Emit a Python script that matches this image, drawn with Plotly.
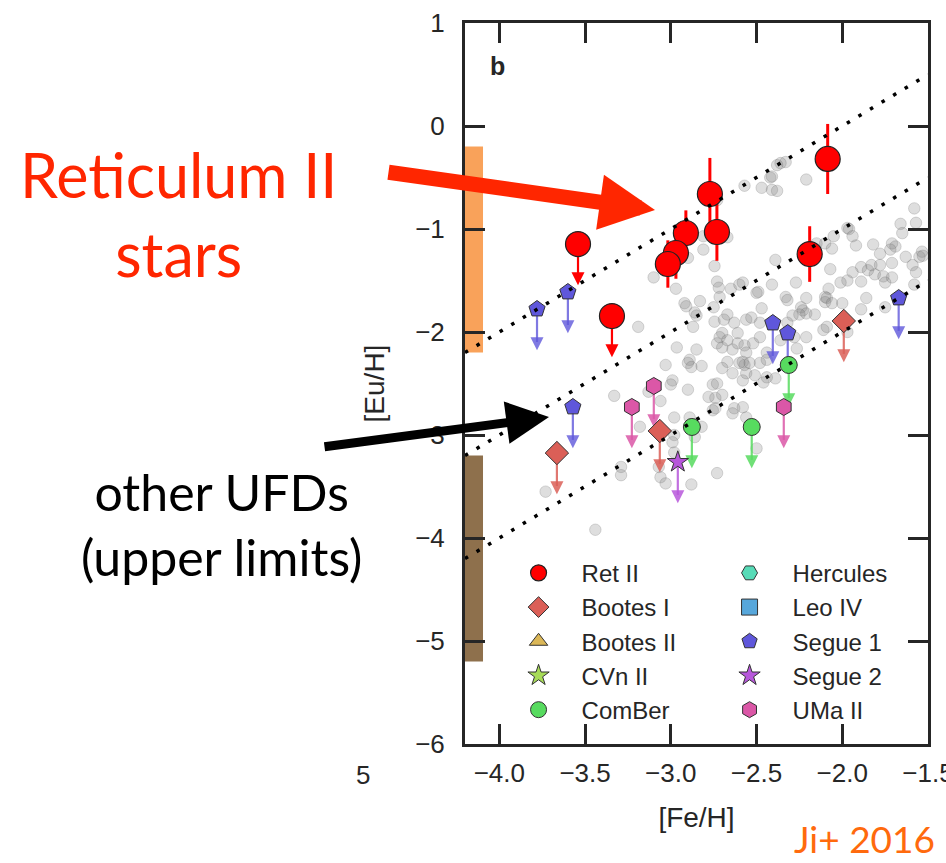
import plotly.graph_objects as go

# ---------------- data ----------------
# Ret II stars
ret_feh = [-2.772, -2.085, -3.541, -2.912, -2.731, -2.970, -3.017, -2.190, -3.343]
ret_euh = [-0.660, -0.320, -1.146, -1.039, -1.029, -1.233, -1.340, -1.243, -1.845]
ret_err = [0.35, 0.34, 0.0, 0.22, 0.28, 0.25, 0.23, 0.27, 0.0]
ret_limit = [False, False, True, False, False, False, False, False, True]

# other UFDs (upper limits)
bootes1_feh = [-1.991, -3.064, -3.664]
bootes1_euh = [-1.893, -2.961, -3.175]
comber_feh = [-2.312, -2.877, -2.528]
comber_euh = [-2.320, -2.922, -2.922]
segue1_feh = [-3.780, -3.600, -2.405, -2.318, -1.671, -3.571]
segue1_euh = [-1.777, -1.612, -1.913, -2.010, -1.670, -2.728]
segue2_feh = [-2.959]
segue2_euh = [-3.262]
uma2_feh = [-3.099, -3.227, -2.341]
uma2_euh = [-2.524, -2.728, -2.728]

# halo field stars (grey)
field_feh = [
    -2.57, -2.73, -2.81, -2.67, -2.81, -2.90, -2.745, -3.10, -2.97, -2.73, -2.72, -2.65, -2.60, -2.58,
    -2.715, -2.92, -2.91, -2.83, -2.86, -2.85, -2.745, -2.67, -2.69, -2.63, -2.56, -2.87, -2.70, -2.61,
    -3.19, -2.75,
    -2.33, -2.36, -2.38, -2.42, -2.41, -2.21, -2.47, -2.41, -2.38,
    -1.58, -1.66, -1.57, -1.65, -1.97, -1.96, -2.05, -1.94, -2.15, -2.10, -2.06, -1.92, -1.82, -1.71,
    -1.69, -1.72, -1.535, -1.55, -1.53, -1.78, -1.71, -1.63, -2.39, -1.59, -2.07, -1.89, -1.85, -1.81,
    -1.83, -1.78, -1.94, -1.57, -1.76, -1.71, -2.27, -2.41, -1.97, -2.01, -1.89, -1.75, -1.58, -2.49,
    -2.50, -2.08, -2.33, -2.32, -2.21, -2.10, -2.09, -2.10, -1.86, -2.06, -2.47, -2.24, -2.23, -2.21,
    -2.25, -2.16, -2.29, -2.00, -1.89, -1.75, -2.53, -2.48, -2.11, -2.09, -1.97, -2.32, -2.36, -2.28,
    -2.21, -2.265,
    -2.965, -2.85, -2.89, -2.90, -2.88, -2.82, -3.03, -2.73, -2.715, -2.70, -2.67, -2.64, -2.61, -2.57,
    -2.56, -2.67, -2.64, -2.58, -2.57, -2.56, -2.99, -3.00, -2.90, -2.755, -2.73, -2.78, -2.74, -2.70,
    -2.755, -2.74, -2.63, -2.58, -3.33, -3.06, -3.18, -2.98, -2.82, -2.86, -2.98, -2.99, -3.07, -3.06,
    -3.03, -2.98, -3.29, -3.29, -2.88, -2.73, -3.44, -3.13, -2.89, -3.73, -2.50, -2.64, -2.56,
    -2.58, -2.54, -2.48, -2.44, -2.44, -2.51, -2.44, -2.39, -2.46, -2.70, -2.52, -2.48, -2.60,
]
field_euh = [
    -0.58, -0.72, -1.07, -1.08, -1.20, -1.28, -1.36, -1.47, -1.58, -1.51, -1.57, -1.58, -1.54, -1.52,
    -1.66, -1.72, -1.75, -1.70, -1.81, -1.84, -1.90, -1.83, -1.88, -1.91, -1.88, -1.95, -2.01, -2.01,
    -1.95, -1.76,
    -0.35, -0.36, -0.38, -0.50, -0.49, -0.52, -0.60, -0.62, -0.63,
    -0.80, -0.95, -0.94, -1.04, -0.99, -1.00, -1.07, -1.07, -1.14, -1.14, -1.19, -1.16, -1.15, -1.14,
    -1.17, -1.20, -1.22, -1.27, -1.26, -1.24, -1.33, -1.27, -1.30, -1.35, -1.39, -1.37, -1.40, -1.44,
    -1.35, -1.35, -1.42, -1.42, -1.46, -1.47, -1.52, -1.54, -1.50, -1.52, -1.51, -1.52, -1.54, -1.61,
    -1.62, -1.58, -1.66, -1.69, -1.67, -1.66, -1.67, -1.71, -1.67, -1.72, -1.77, -1.76, -1.79, -1.82,
    -1.83, -1.83, -1.84, -1.72, -1.78, -1.76, -1.86, -1.91, -1.98, -1.95, -2.00, -1.91, -2.08, -2.05,
    -2.05, -2.16,
    -2.15, -2.17, -2.27, -2.30, -2.34, -2.33, -2.32, -2.11, -2.05, -2.15, -2.08, -2.17, -2.11, -2.13,
    -2.20, -2.29, -2.40, -2.47, -2.32, -2.40, -2.47, -2.51, -2.56, -2.51, -2.50, -2.63, -2.64, -2.61,
    -2.76, -2.74, -2.74, -2.73, -2.62, -2.67, -2.92, -2.83, -2.92, -3.02, -3.00, -3.07, -3.31, -3.41,
    -3.47, -3.17, -3.31, -3.39, -3.48, -3.37, -3.92, -2.58, -2.83, -3.55, -3.13, -2.79, -2.83,
    -2.29, -2.30, -2.30, -2.27, -2.20, -2.42, -2.44, -2.45, -2.49, -2.35, -2.11, -2.05, -2.30,
]

# constant [Eu/Fe] reference lines
eufe_levels = [2.0, 1.0, 0.0]
feh_line = [-4.2, -1.5]

# shaded [Eu/H] ranges at the left edge
band_feh = [-4.2, -4.095]
band_low = [-2.2, -5.2]
band_high = [-0.2, -3.2]
band_colors = ["rgba(248,152,72,0.9)", "rgba(130,96,56,0.9)"]

x_ticks = [-4.0, -3.5, -3.0, -2.5, -2.0, -1.5]
y_ticks = [-6, -5, -4, -3, -2, -1, 0, 1]

ARROW_LEN = 0.40
INK = "#262626"
TICKFONT = "Liberation Sans, Arial, sans-serif"

fig = go.Figure()

# bands
for lo, hi, col in zip(band_low, band_high, band_colors):
    fig.add_shape(type="rect", xref="x", yref="y", x0=band_feh[0], x1=band_feh[1],
                  y0=lo, y1=hi, fillcolor=col, line=dict(width=0), layer="below")

# field stars
fig.add_trace(go.Scatter(
    x=field_feh, y=field_euh, mode="markers", showlegend=False, hoverinfo="skip",
    marker=dict(size=11.5, color="rgba(128,128,128,0.26)",
                line=dict(color="rgba(90,90,90,0.22)", width=1)),
))


def add_limit_arrows(feh, euh, color):
    xs, ys, tx, ty = [], [], [], []
    for f, e in zip(feh, euh):
        xs += [f, f, None]
        ys += [e, e - ARROW_LEN + 0.08, None]
        tx.append(f)
        ty.append(e - ARROW_LEN)
    fig.add_trace(go.Scatter(x=xs, y=ys, mode="lines", showlegend=False, hoverinfo="skip",
                             line=dict(color=color, width=2.2)))
    fig.add_trace(go.Scatter(x=tx, y=ty, mode="markers", showlegend=False, hoverinfo="skip",
                             marker=dict(symbol="arrow-down", size=13, color=color,
                                         line=dict(width=0))))


galaxies = [
    # name, feh, euh, symbol, size, color, arrow color, rank
    ("Bootes I", bootes1_feh, bootes1_euh, "diamond", 18, "#db5f57", "rgba(219,95,87,0.85)", 3),
    ("ComBer", comber_feh, comber_euh, "circle", 17, "#57db5f", "rgba(87,219,95,0.85)", 9),
    ("Segue 1", segue1_feh, segue1_euh, "pentagon", 17, "#5f57db", "rgba(95,87,219,0.8)", 6),
    ("Segue 2", segue2_feh, segue2_euh, "star", 16, "#b757db", "rgba(183,87,219,0.85)", 8),
    ("UMa II", uma2_feh, uma2_euh, "hexagon", 17, "#db57a7", "rgba(219,87,167,0.85)", 10),
]

# arrows first (below markers)
for name, fx, ey, sym, sz, col, acol, rank in galaxies:
    add_limit_arrows(fx, ey, acol)
add_limit_arrows([f for f, l in zip(ret_feh, ret_limit) if l],
                 [e for e, l in zip(ret_euh, ret_limit) if l], "red")

for name, fx, ey, sym, sz, col, acol, rank in galaxies:
    fig.add_trace(go.Scatter(
        x=fx, y=ey, mode="markers", name=name, legendrank=rank,
        marker=dict(symbol=sym, size=sz, color=col, line=dict(color="#333333", width=1)),
    ))

# legend-only galaxies (no stars in this panel)
for name, sym, col, rank in [("Hercules", "hexagon2", "#57dbb7", 2),
                             ("Leo IV", "square", "#57a7db", 4),
                             ("Bootes II", "triangle-up", "#dbb757", 5),
                             ("CVn II", "star", "#a7db57", 7)]:
    fig.add_trace(go.Scatter(
        x=[None], y=[None], mode="markers", name=name, legendrank=rank,
        marker=dict(symbol=sym, size=16, color=col, line=dict(color="#333333", width=1)),
    ))

# Ret II
fig.add_trace(go.Scatter(
    x=ret_feh, y=ret_euh, mode="markers", name="Ret II", legendrank=1,
    error_y=dict(type="data", array=ret_err, color="red", thickness=3, width=0),
    marker=dict(symbol="circle", size=25, color="red", line=dict(color="#222222", width=1.2)),
))

# dotted [Eu/Fe] lines (on top)
for c in eufe_levels:
    fig.add_trace(go.Scatter(
        x=feh_line, y=[f + c for f in feh_line], mode="lines", showlegend=False,
        hoverinfo="skip", line=dict(color="black", width=3.5, dash="3.5px,10px"),
    ))

axis_common = dict(
    showgrid=False, zeroline=False, showline=True, linewidth=3, linecolor=INK,
    mirror="ticks", ticks="inside", ticklen=20, tickwidth=2.5, tickcolor=INK,
    tickfont=dict(family=TICKFONT, size=26, color=INK), automargin=False,
    ticklabeloverflow="allow",
)

fig.update_layout(
    width=946, height=863,
    margin=dict(l=465, r=18, t=23, b=119, autoexpand=False),
    paper_bgcolor="white", plot_bgcolor="white",
    xaxis=dict(range=[-4.2, -1.5], tickvals=x_ticks, tickformat=".1f",
               ticklabelstandoff=4,
               title=dict(text="[Fe/H]", font=dict(family=TICKFONT, size=28, color=INK), standoff=21),
               **axis_common),
    yaxis=dict(range=[-6, 1], tickvals=y_ticks, ticklabelstandoff=12,
               title=dict(text="[Eu/H]", font=dict(family=TICKFONT, size=28, color=INK), standoff=23),
               **axis_common),
    legend=dict(orientation="h", x=0.066, y=0.268, xanchor="left", yanchor="top",
                entrywidth=120, entrywidthmode="pixels", itemwidth=76,
                font=dict(family=TICKFONT, size=24, color=INK),
                bgcolor="rgba(0,0,0,0)", borderwidth=0),
    showlegend=True,
)

annotations = [
    dict(text="<b>b</b>", x=(497 - 465) / 463, y=(744 - 66) / 721, xref="paper", yref="paper",
         showarrow=False, xanchor="center", yanchor="middle",
         font=dict(family=TICKFONT, size=25, color=INK)),
    dict(text="Reticulum II<br>stars", x=(178 - 465) / 463, y=(744 - 214) / 721,
         xref="paper", yref="paper", showarrow=False, align="center",
         xanchor="center", yanchor="middle",
         font=dict(family="Lato", size=61, color="#ff2600")),
    dict(text="other UFDs<br>(upper limits)", x=(221 - 465) / 463, y=(744 - 524) / 721,
         xref="paper", yref="paper", showarrow=False, align="center",
         xanchor="center", yanchor="middle",
         font=dict(family="Lato", size=50, color="black")),
    dict(text="Ji+ 2016", x=(864 - 465) / 463, y=(744 - 838) / 721,
         xref="paper", yref="paper", showarrow=False, xanchor="center", yanchor="middle",
         font=dict(family="Lato", size=37, color="#ff6a0d")),
    dict(text="5", x=(363 - 465) / 463, y=(744 - 775) / 721,
         xref="paper", yref="paper", showarrow=False, xanchor="center", yanchor="middle",
         font=dict(family=TICKFONT, size=26, color=INK)),
    # red arrow
    dict(text="", x=(655 - 465) / 463, y=(744 - 210) / 721, xref="paper", yref="paper",
         showarrow=True, arrowhead=2, arrowsize=0.74, arrowwidth=15, arrowcolor="#ff2600",
         ax=387 - 655, ay=172 - 210),
    # black arrow
    dict(text="", x=(549 - 465) / 463, y=(744 - 417) / 721, xref="paper", yref="paper",
         showarrow=True, arrowhead=2, arrowsize=0.95, arrowwidth=9, arrowcolor="black",
         ax=323 - 549, ay=447 - 417),
]
fig.update_layout(annotations=annotations)

fig.write_html("out.html", config={"displayModeBar": False},
               post_script="document.body.style.margin='0px';")
